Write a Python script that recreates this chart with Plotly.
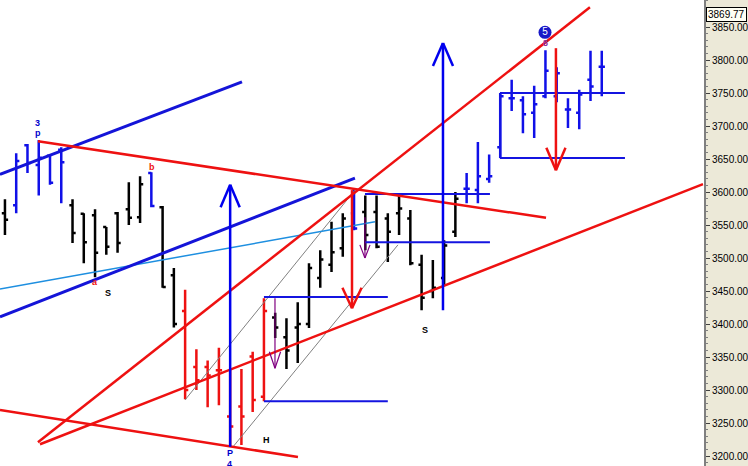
import plotly.graph_objects as go

# ---------------- data ----------------
bar_idx = list(range(54))
opens = [3568, 3580, 3671, 3641, 3655, 3664, 3580, 3567, 3565, 3547, 3568, 3574, 3562, 3629, 3577,
         3474, 3420, 3335, 3335, 3330, 3260, 3275, 3351, 3290, 3410, 3380, 3395, 3400, 3470, 3490,
         3515, 3568, 3570, 3570, 3560, 3568, 3560, 3490, 3450, 3470, 3540, 3605, 3603, 3620, 3668,
         3742, 3739, 3720, 3745, 3745, 3725, 3720, 3770, 3790]
highs = [3589, 3659, 3673, 3679, 3657, 3668, 3589, 3568, 3574, 3547, 3570, 3615, 3624, 3630, 3579,
         3485, 3452, 3362, 3345, 3364, 3330, 3332, 3358, 3439, 3417, 3409, 3433, 3492, 3512, 3555,
         3568, 3606, 3595, 3595, 3568, 3595, 3573, 3505, 3497, 3527, 3600, 3629, 3676, 3657, 3750,
         3770, 3745, 3761, 3815, 3789, 3742, 3755, 3814, 3814]
lows = [3535, 3568, 3629, 3595, 3611, 3583, 3523, 3492, 3471, 3505, 3508, 3550, 3553, 3577, 3455,
        3395, 3286, 3300, 3274, 3277, 3214, 3217, 3267, 3283, 3379, 3332, 3341, 3394, 3455, 3479,
        3502, 3542, 3512, 3515, 3494, 3535, 3489, 3421, 3439, 3459, 3532, 3583, 3583, 3614, 3652,
        3723, 3689, 3682, 3742, 3736, 3697, 3695, 3738, 3745]
closes = [3558, 3647, 3644, 3652, 3614, 3645, 3538, 3524, 3508, 3517, 3523, 3561, 3612, 3579, 3456,
          3400, 3300, 3315, 3322, 3330, 3245, 3260, 3285, 3420, 3395, 3360, 3400, 3485, 3498, 3509,
          3560, 3545, 3535, 3517, 3540, 3575, 3492, 3440, 3455, 3519, 3590, 3605, 3624, 3624, 3745,
          3742, 3718, 3733, 3784, 3780, 3725, 3748, 3760, 3790]
bar_groups = (["k"] + ["b"] * 5 + ["k"] * 7 + ["b"] + ["k"] * 2 + ["r"] * 8 + ["k"] * 7 +
              ["b"] + ["k"] * 9 + ["b"] * 13)

# trend lines: (x0, y0, x1, y1) in bar index / price
lines_blue_thick = [(-0.44, 3627, 21.05, 3767), (-0.44, 3411, 31.08, 3621)]
lines_lightblue = [(-0.44, 3453, 32.86, 3555)]
lines_red = [(2.93, 3677, 48.05, 3561), (2.93, 3221, 51.95, 3880),
             (3.11, 3218, 61.99, 3612), (-0.44, 3270, 26.02, 3198.5)]
lines_gray = [(15.99, 3285, 31.08, 3603), (20.25, 3214, 34.9, 3520)]
levels_blue = [(23.0, 3441, 34.0, 3441), (23.0, 3283, 34.0, 3283),
               (31.97, 3597, 43.07, 3597), (31.97, 3524, 43.07, 3524),
               (43.96, 3750, 55.06, 3750), (43.96, 3651.5, 55.06, 3651.5),
               (43.96, 3750, 43.96, 3651.5)]
# arrows: (x, y_from, y_to, wing_dx, wing_y, color, width)
arrows = [(20.0, 3214, 3611, 0.85, 3577, "#0000ee", 2.5),
          (38.9, 3421, 3826, 0.89, 3791, "#0000ee", 2.5),
          (30.82, 3603, 3424, 0.85, 3455, "#ee1111", 2.5),
          (48.93, 3818, 3633, 0.85, 3667, "#ee1111", 2.5),
          (23.98, 3439, 3333, 0.5, 3358, "#800080", 1.2),
          (31.97, 3562, 3500, 0.45, 3520, "#800080", 1.2)]
labels = [("3", 2.93, 3704, "#0000cc"), ("p", 2.93, 3690, "#0000cc"),
          ("b", 13.05, 3638, "#ee1111"), ("a", 7.99, 3464, "#ee1111"),
          ("S", 9.15, 3447, "black"), ("S", 37.3, 3391, "black"),
          ("H", 23.27, 3224, "black"), ("P", 19.98, 3204, "#0000cc"),
          ("4", 19.98, 3188, "#0000cc"), ("8", 47.96, 3826, "#8b2f9f")]
wave5 = ("5", 47.96, 3842)
last_price = 3869.77

# ---------------- figure ----------------
fig = go.Figure()
colors = {"k": "#000000", "b": "#1010e8", "r": "#ee1111"}
for g, col in colors.items():
    sel = [i for i in bar_idx if bar_groups[i] == g]
    fig.add_trace(go.Ohlc(
        x=sel, open=[opens[i] for i in sel], high=[highs[i] for i in sel],
        low=[lows[i] for i in sel], close=[closes[i] for i in sel],
        increasing=dict(line=dict(color=col, width=2.5)),
        decreasing=dict(line=dict(color=col, width=2.5)),
        tickwidth=0.28, showlegend=False, hoverinfo="skip"))


def add_segments(segs, color, width):
    xs, ys = [], []
    for x0, y0, x1, y1 in segs:
        xs += [x0, x1, None]
        ys += [y0, y1, None]
    fig.add_trace(go.Scatter(x=xs, y=ys, mode="lines", line=dict(color=color, width=width),
                             showlegend=False, hoverinfo="skip"))


add_segments(lines_gray, "#808080", 1)
add_segments(lines_lightblue, "#1e8fe0", 1.5)
add_segments(lines_blue_thick, "#1414d8", 3)
add_segments(levels_blue, "#1414e0", 2)
add_segments(lines_red, "#ee1111", 2.5)
for x, yf, yt, dx, wy, col, w in arrows:
    add_segments([(x, yf, x, yt), (x - dx, wy, x, yt), (x + dx, wy, x, yt)], col, w)

for txt, x, y, col in labels:
    fig.add_annotation(x=x, y=y, text=f"<b>{txt}</b>", showarrow=False,
                       font=dict(family="Liberation Sans, Arial", size=9, color=col))
fig.add_trace(go.Scatter(x=[wave5[1]], y=[wave5[2]], mode="markers+text", text=[wave5[0]],
                         marker=dict(size=13, color="#1818c8"),
                         textfont=dict(color="white", size=10, family="Liberation Sans, Arial"),
                         textposition="middle center", showlegend=False, hoverinfo="skip"))

axis_font = dict(family="Liberation Sans, Arial", size=10, color="black")
fig.add_annotation(xref="paper", x=1.0, xanchor="left", xshift=2, y=last_price, yanchor="middle",
                   text=f"{last_price:.2f}", showarrow=False, bgcolor="#fffff4",
                   bordercolor="#000000", borderwidth=1, borderpad=1, font=axis_font)

fig.update_layout(
    width=748, height=466, margin=dict(l=0, r=44, t=0, b=0, autoexpand=False),
    paper_bgcolor="#ece9d8", plot_bgcolor="white", hovermode=False,
    xaxis=dict(range=[-0.44, 62.08], showticklabels=False, showgrid=False, zeroline=False,
               rangeslider=dict(visible=False), fixedrange=True, automargin=False),
    yaxis=dict(range=[3185, 3891], side="right", showgrid=False, zeroline=False,
               tick0=3200, dtick=50, tickformat=".2f", ticks="outside", ticklen=4,
               tickcolor="#404040", showline=True, linecolor="#808080", linewidth=2,
               automargin=False, fixedrange=True,
               minor=dict(dtick=10, ticks="outside", ticklen=2, tickcolor="#808080"),
               tickfont=axis_font),
)
fig.write_html("out.html", config={"displayModeBar": False},
               post_script="document.body.style.margin='0';document.body.style.overflow='hidden';")
